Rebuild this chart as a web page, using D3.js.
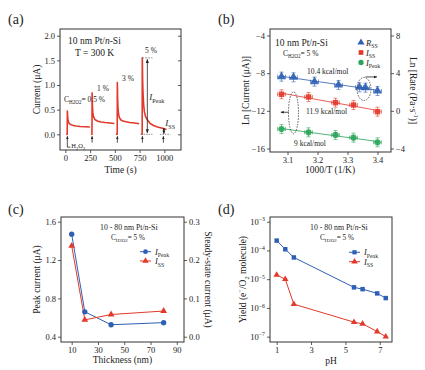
<!DOCTYPE html>
<html><head><meta charset="utf-8">
<script src="https://cdn.jsdelivr.net/npm/d3@7"></script>
<style>body{margin:0;background:#fff}svg{display:block}text{font-family:"Liberation Serif","Times New Roman",serif;fill:#222}</style>
</head><body>
<svg id="c" width="425" height="370"></svg>
<script>
// ---------- DATA ----------
// (a) current transients
const aTicksX = [0, 250, 500, 750, 1000];
const aTicksY = [0, 0.5, 1.0, 1.5, 2.0];
const aSeg1T = [8, 19, 20, 23, 27, 33, 45, 60, 80, 110, 150, 200, 248];
const aSeg1I = [0, 0, 0.47, 0.36, 0.28, 0.24, 0.21, 0.195, 0.18, 0.17, 0.16, 0.155, 0.15];
const aSeg2T = [258, 269, 270, 273, 277, 283, 295, 310, 330, 360, 400, 450, 495];
const aSeg2I = [0, 0, 0.84, 0.6, 0.45, 0.37, 0.31, 0.285, 0.265, 0.25, 0.24, 0.23, 0.22];
const aSeg3T = [510, 524, 525, 528, 532, 538, 548, 562, 582, 612, 650, 700, 746];
const aSeg3I = [0, 0, 1.05, 0.72, 0.52, 0.4, 0.33, 0.29, 0.27, 0.255, 0.24, 0.228, 0.215];
const aSeg4T = [762, 776, 777, 780, 784, 790, 798, 810, 830, 856, 890, 923, 960, 990, 1022];
const aSeg4I = [0, 0, 1.55, 1.15, 0.85, 0.62, 0.46, 0.36, 0.29, 0.22, 0.18, 0.155, 0.135, 0.12, 0.1];
const aInject = [20, 270, 525, 778, 990];
const aLabels = ["0.5 %", "1 %", "3 %", "5 %"];

// (b) Arrhenius plot
const bTicksX = [3.1, 3.2, 3.3, 3.4];
const bTicksL = [-4, -8, -12, -16];
const bTicksR = [8, 4, 0, -4];
const bXR = [3.08, 3.12, 3.19, 3.27, 3.34, 3.36, 3.40];
const bRss = [3.63, 3.56, 3.10, 2.75, 2.50, 2.46, 2.11];
const bXI = [3.08, 3.17, 3.26, 3.32, 3.40];
const bIss = [-10.24, -10.53, -11.13, -11.38, -12.09];
const bIpeak = [-13.93, -14.28, -14.56, -14.85, -15.34];
const bEa = ["10.4 kcal/mol", "11.9 kcal/mol", "9 kcal/mol"];

// (c) thickness dependence
const cTicksX = [10, 30, 50, 70, 90];
const cTicksL = [0.4, 0.8, 1.2, 1.6];
const cTicksR = [0.0, 0.1, 0.2, 0.3];
const cThick = [10, 20, 40, 80];
const cIpeak = [1.47, 0.66, 0.525, 0.547];
const cIss = [0.237, 0.044, 0.058, 0.067];

// (d) pH dependence
const dTicksX = [1, 3, 5, 7];
const dTicksExp = [-3, -4, -5, -6, -7];
const dPH = [1, 1.5, 2, 5.5, 6, 6.85, 7.35];
const dPeak = [2.2e-4, 1.1e-4, 5.7e-5, 5.2e-6, 4.5e-6, 3.2e-6, 2.2e-6];
const dSS = [1.4e-5, 1.0e-5, 1.35e-6, 3.2e-7, 2.8e-7, 1.5e-7, 1.0e-7];

// ---------- HELPERS ----------
const svg = d3.select('#c');
const SERIF = '"Liberation Serif","Times New Roman",serif';
const AX = '#333', RED = '#e2392b', BLUE = '#2f5fb4', GREEN = '#2aa45a';
const defs = svg.append('defs');
function mk(id, col, w) {
  defs.append('marker').attr('id', id).attr('viewBox', '0 0 10 10').attr('refX', 9).attr('refY', 5)
    .attr('markerWidth', w).attr('markerHeight', w).attr('orient', 'auto-start-reverse')
    .append('path').attr('d', 'M0,1L10,5L0,9Z').attr('fill', col);
}
mk('arrK', '#222', 5); mk('arrS', '#222', 4);

function rich(g, x, y, parts, size, opts = {}) {
  const t = g.append('text').attr('x', x).attr('y', y).attr('font-size', size)
    .attr('text-anchor', opts.anchor || 'start');
  if (opts.rotate) t.attr('transform', `rotate(${opts.rotate},${x},${y})`);
  let shift = 0;
  parts.forEach(p => {
    const s = t.append('tspan').text(p.t);
    if (p.i) s.attr('font-style', 'italic');
    const target = p.sub ? size * 0.3 : p.sup ? -size * 0.4 : 0;
    if (target !== shift) { s.attr('dy', target - shift); shift = target; }
    if (p.sub || p.sup) s.attr('font-size', size * 0.68);
  });
  return t;
}
function axis(ax, tr) {
  const a = svg.append('g').attr('transform', tr).call(ax);
  a.select('.domain').remove();
  a.attr('font-family', SERIF).attr('font-size', 8.5);
  a.selectAll('line').attr('stroke', AX).attr('stroke-width', 0.8);
  a.selectAll('text').attr('fill', '#222');
  return a;
}
function frame(x0, y0, x1, y1) {
  svg.append('rect').attr('x', x0).attr('y', y0).attr('width', x1 - x0).attr('height', y1 - y0)
    .attr('fill', 'none').attr('stroke', AX).attr('stroke-width', 1);
}
function label(x, y, s) { svg.append('text').attr('x', x).attr('y', y).attr('font-size', 14).text(s); }
const H2O2 = [{t: 'C'}, {t: 'H2O2', sub: true}];

// ---------- PANEL (a) ----------
{
  const x = d3.scaleLinear().domain([-54, 1168]).range([60, 181]);
  const y = d3.scaleLinear().domain([-0.318, 2.136]).range([150, 29]);
  label(8, 24, '(a)');
  axis(d3.axisBottom(x).tickValues(aTicksX).tickFormat(d3.format('d')).tickSize(3).tickPadding(2).tickSizeOuter(0), 'translate(0,150)');
  axis(d3.axisLeft(y).tickValues(aTicksY).tickFormat(d3.format('.1f')).tickSize(3).tickPadding(2).tickSizeOuter(0), 'translate(60,0)');
  axis(d3.axisLeft(y).tickValues(aTicksY).tickFormat('').tickSize(3).tickSizeOuter(0), 'translate(181,0)');
  frame(60, 29, 181, 150);
  const line = d3.line().x(d => x(d[0])).y(d => y(d[1]));
  [[aSeg1T, aSeg1I], [aSeg2T, aSeg2I], [aSeg3T, aSeg3I], [aSeg4T, aSeg4I]].forEach(([T, I]) => {
    svg.append('path').attr('d', line(T.map((t, i) => [t, I[i]]))).attr('fill', 'none')
      .attr('stroke', RED).attr('stroke-width', 1.6).attr('stroke-linejoin', 'round');
  });
  // injection arrows
  aInject.forEach(t => {
    svg.append('line').attr('x1', x(t)).attr('x2', x(t)).attr('y1', y(-0.17)).attr('y2', y(-0.04))
      .attr('stroke', '#222').attr('stroke-width', 0.8).attr('marker-end', 'url(#arrS)');
  });
  svg.append('path').attr('d', `M${x(aInject[0])},${y(-0.17)}V${y(-0.26)}H${x(aInject[0]) + 3}`)
    .attr('fill', 'none').attr('stroke', '#222').attr('stroke-width', 0.8);
  rich(svg, x(aInject[0]) + 4, y(-0.26) + 1, [{t: 'H'}, {t: '2', sub: true}, {t: 'O'}, {t: '2', sub: true}], 6.5);
  // peak annotation
  const tp = 828;
  svg.append('line').attr('x1', x(775)).attr('x2', x(880)).attr('y1', y(1.55)).attr('y2', y(1.55))
    .attr('stroke', '#777').attr('stroke-width', 0.8).attr('stroke-dasharray', '2,1');
  svg.append('line').attr('x1', x(765)).attr('x2', x(880)).attr('y1', y(0)).attr('y2', y(0))
    .attr('stroke', '#777').attr('stroke-width', 0.8).attr('stroke-dasharray', '1.5,1');
  svg.append('line').attr('x1', x(955)).attr('x2', x(1060)).attr('y1', y(0)).attr('y2', y(0))
    .attr('stroke', '#777').attr('stroke-width', 0.8).attr('stroke-dasharray', '1.5,1');
  svg.append('line').attr('x1', x(tp)).attr('x2', x(tp)).attr('y1', y(1.52)).attr('y2', y(0.03))
    .attr('stroke', '#222').attr('stroke-width', 0.8).attr('marker-start', 'url(#arrK)').attr('marker-end', 'url(#arrK)');
  svg.append('line').attr('x1', x(995)).attr('x2', x(995)).attr('y1', y(0.13)).attr('y2', y(0.01))
    .attr('stroke', '#222').attr('stroke-width', 0.8).attr('marker-start', 'url(#arrS)').attr('marker-end', 'url(#arrS)');
  rich(svg, x(tp) + 2, 100, [{t: 'I', i: true}, {t: 'Peak', sub: true}], 9);
  rich(svg, x(1010), 126, [{t: 'I', i: true}, {t: 'SS', sub: true}], 9);
  rich(svg, 64, 102, [...H2O2, {t: '= ' + aLabels[0]}], 7.5);
  svg.append('text').attr('x', 97).attr('y', 91).attr('font-size', 7.5).text(aLabels[1]);
  svg.append('text').attr('x', 122).attr('y', 81).attr('font-size', 7.5).text(aLabels[2]);
  svg.append('text').attr('x', 145).attr('y', 53).attr('font-size', 7.5).text(aLabels[3]);
  rich(svg, 68, 43.5, [{t: '10 nm Pt/'}, {t: 'n', i: true}, {t: '-Si'}], 9.5);
  svg.append('text').attr('x', 75).attr('y', 55.5).attr('font-size', 9.5).text('T = 300 K');
  svg.append('text').attr('x', 120.5).attr('y', 173).attr('font-size', 9.5).attr('text-anchor', 'middle').text('Time (s)');
  svg.append('text').attr('x', 40).attr('y', 89.5).attr('font-size', 9.5).attr('text-anchor', 'middle')
    .attr('transform', 'rotate(-90,40,89.5)').text('Current (μA)');
}

// ---------- PANEL (b) ----------
{
  const x = d3.scaleLinear().domain([3.0417, 3.445]).range([270, 391]);
  const yL = d3.scaleLinear().domain([-16.37, -3.31]).range([152, 29]);
  const yR = d3.scaleLinear().domain([-4.37, 8.69]).range([152, 29]);
  label(218, 24, '(b)');
  axis(d3.axisBottom(x).tickValues(bTicksX).tickFormat(d3.format('.1f')).tickSize(3).tickPadding(2).tickSizeOuter(0), 'translate(0,152)');
  axis(d3.axisLeft(yL).tickValues(bTicksL).tickSize(3).tickPadding(2).tickSizeOuter(0), 'translate(270,0)');
  axis(d3.axisRight(yR).tickValues(bTicksR).tickSize(3).tickPadding(2).tickSizeOuter(0), 'translate(391,0)');
  frame(270, 29, 391, 152);
  const series = [
    {X: bXR, Y: bRss, sc: yR, col: BLUE, sym: d3.symbolTriangle, sz: 34},
    {X: bXI, Y: bIss, sc: yL, col: RED, sym: d3.symbolSquare, sz: 30},
    {X: bXI, Y: bIpeak, sc: yL, col: GREEN, sym: d3.symbolCircle, sz: 30}
  ];
  series.forEach(s => {
    // least-squares fit line
    const n = s.X.length, mx = d3.mean(s.X), my = d3.mean(s.Y);
    const slope = d3.sum(s.X.map((v, i) => (v - mx) * (s.Y[i] - my))) / d3.sum(s.X.map(v => (v - mx) ** 2));
    const x0 = s.X[0], x1 = s.X[n - 1];
    svg.append('line').attr('x1', x(x0)).attr('x2', x(x1))
      .attr('y1', s.sc(my + slope * (x0 - mx))).attr('y2', s.sc(my + slope * (x1 - mx)))
      .attr('stroke', s.col).attr('stroke-width', 1).attr('opacity', 0.8);
    s.X.forEach((xv, i) => {
      const px = x(xv), py = s.sc(s.Y[i]);
      const g = svg.append('g').attr('stroke', s.col).attr('stroke-width', 0.8).attr('opacity', 0.75);
      g.append('line').attr('x1', px).attr('x2', px).attr('y1', py - 4.5).attr('y2', py + 4.5);
      g.append('line').attr('x1', px - 2).attr('x2', px + 2).attr('y1', py - 4.5).attr('y2', py - 4.5);
      g.append('line').attr('x1', px - 2).attr('x2', px + 2).attr('y1', py + 4.5).attr('y2', py + 4.5);
      g.append('line').attr('x1', px - 4).attr('x2', px + 4).attr('y1', py).attr('y2', py);
      g.append('line').attr('x1', px - 4).attr('x2', px - 4).attr('y1', py - 2).attr('y2', py + 2);
      g.append('line').attr('x1', px + 4).attr('x2', px + 4).attr('y1', py - 2).attr('y2', py + 2);
      svg.append('path').attr('d', d3.symbol(s.sym, s.sz)()).attr('transform', `translate(${px},${py})`)
        .attr('fill', s.col).attr('opacity', 0.9);
    });
  });
  // dashed ellipses and arrows
  svg.append('ellipse').attr('cx', x(3.355)).attr('cy', yL(-9.68)).attr('rx', 7).attr('ry', 11.5)
    .attr('fill', 'none').attr('stroke', '#333').attr('stroke-width', 0.8).attr('stroke-dasharray', '1.5,1.2');
  svg.append('line').attr('x1', x(3.36)).attr('x2', x(3.398)).attr('y1', yL(-8.4)).attr('y2', yL(-8.4))
    .attr('stroke', '#222').attr('stroke-width', 0.8).attr('marker-end', 'url(#arrS)');
  svg.append('ellipse').attr('cx', x(3.12)).attr('cy', yL(-12.2)).attr('rx', 5).attr('ry', 21)
    .attr('fill', 'none').attr('stroke', '#333').attr('stroke-width', 0.8).attr('stroke-dasharray', '1.5,1.2');
  svg.append('line').attr('x1', x(3.104)).attr('x2', x(3.078)).attr('y1', yL(-12.15)).attr('y2', yL(-12.15))
    .attr('stroke', '#222').attr('stroke-width', 0.8).attr('marker-end', 'url(#arrS)');
  svg.append('text').attr('x', 307).attr('y', 73.5).attr('font-size', 7.5).text(bEa[0]);
  svg.append('text').attr('x', 306).attr('y', 114).attr('font-size', 7.5).text(bEa[1]);
  svg.append('text').attr('x', 294).attr('y', 146).attr('font-size', 7.5).text(bEa[2]);
  rich(svg, 275, 46, [{t: '10 nm Pt/'}, {t: 'n', i: true}, {t: '-Si'}], 9.5);
  rich(svg, 283, 55.5, [...H2O2, {t: '= 5 %'}], 7.5);
  // legend
  const leg = [[d3.symbolTriangle, BLUE, [{t: 'R', i: true}, {t: 'SS', sub: true}]],
               [d3.symbolSquare, RED, [{t: 'I', i: true}, {t: 'SS', sub: true}]],
               [d3.symbolCircle, GREEN, [{t: 'I', i: true}, {t: 'Peak', sub: true}]]];
  leg.forEach((l, i) => {
    const yy = 42.5 + i * 10;
    svg.append('path').attr('d', d3.symbol(l[0], 22)()).attr('transform', `translate(361,${yy})`).attr('fill', l[1]);
    rich(svg, 366, yy + 3, l[2], 8.5);
  });
  svg.append('text').attr('x', 330).attr('y', 173).attr('font-size', 9.5).attr('text-anchor', 'middle').text('1000/T (1/K)');
  rich(svg, 249, 90.5, [{t: 'Ln [Current (μA)]'}], 9.5, {anchor: 'middle', rotate: -90});
  rich(svg, 410, 90.5, [{t: 'Ln [Rate (Pa·s'}, {t: '-1', sup: true}, {t: ')]'}], 9.5, {anchor: 'middle', rotate: 90});
}

// ---------- PANEL (c) ----------
{
  const x = d3.scaleLinear().domain([1.87, 95.5]).range([61, 184]);
  const yL = d3.scaleLinear().domain([0.345, 1.649]).range([342, 217]);
  const yR = d3.scaleLinear().domain([-0.01375, 0.31225]).range([342, 217]);
  label(8, 214, '(c)');
  axis(d3.axisBottom(x).tickValues(cTicksX).tickSize(3).tickPadding(2).tickSizeOuter(0), 'translate(0,342)');
  axis(d3.axisLeft(yL).tickValues(cTicksL).tickFormat(d3.format('.1f')).tickSize(3).tickPadding(2).tickSizeOuter(0), 'translate(61,0)');
  axis(d3.axisRight(yR).tickValues(cTicksR).tickFormat(d3.format('.1f')).tickSize(3).tickPadding(2).tickSizeOuter(0), 'translate(184,0)');
  frame(61, 217, 184, 342);
  const lp = d3.line().x((d, i) => x(cThick[i])).y(d => yL(d));
  const lr = d3.line().x((d, i) => x(cThick[i])).y(d => yR(d));
  svg.append('path').attr('d', lp(cIpeak)).attr('fill', 'none').attr('stroke', BLUE).attr('stroke-width', 1);
  svg.append('path').attr('d', lr(cIss)).attr('fill', 'none').attr('stroke', RED).attr('stroke-width', 1);
  cIpeak.forEach((v, i) => svg.append('path').attr('d', d3.symbol(d3.symbolCircle, 22)())
    .attr('transform', `translate(${x(cThick[i])},${yL(v)})`).attr('fill', BLUE));
  cIss.forEach((v, i) => svg.append('path').attr('d', d3.symbol(d3.symbolTriangle, 20)())
    .attr('transform', `translate(${x(cThick[i])},${yR(v)})`).attr('fill', RED));
  rich(svg, 100, 230, [{t: '10 - 80 nm Pt/n-Si'}], 7.8);
  rich(svg, 111, 239.5, [...H2O2, {t: '= 5 %'}], 7.2);
  [[BLUE, d3.symbolCircle, [{t: 'I', i: true}, {t: 'Peak', sub: true}], 251.7],
   [RED, d3.symbolTriangle, [{t: 'I', i: true}, {t: 'SS', sub: true}], 261]].forEach(l => {
    svg.append('line').attr('x1', 140).attr('x2', 151).attr('y1', l[3]).attr('y2', l[3]).attr('stroke', l[0]);
    svg.append('path').attr('d', d3.symbol(l[1], 18)()).attr('transform', `translate(145.5,${l[3]})`).attr('fill', l[0]);
    rich(svg, 155, l[3] + 3, l[2], 8.5);
  });
  svg.append('text').attr('x', 122.5).attr('y', 363).attr('font-size', 9.5).attr('text-anchor', 'middle').text('Thickness (nm)');
  rich(svg, 40, 279.5, [{t: 'Peak current (μA)'}], 9.5, {anchor: 'middle', rotate: -90});
  rich(svg, 205, 279.5, [{t: 'Steady-state current (μA)'}], 9.5, {anchor: 'middle', rotate: 90});
}

// ---------- PANEL (d) ----------
{
  const x = d3.scaleLinear().domain([0.611, 7.713]).range([270, 392]);
  const y = d3.scaleLog().domain([Math.pow(10, -7.186), Math.pow(10, -2.836)]).range([342, 217]);
  label(218, 214, '(d)');
  axis(d3.axisBottom(x).tickValues(dTicksX).tickSize(3).tickPadding(2).tickSizeOuter(0), 'translate(0,342)');
  axis(d3.axisLeft(y).tickValues(dTicksExp.map(e => Math.pow(10, e))).tickFormat('').tickSize(3).tickSizeOuter(0), 'translate(270,0)');
  dTicksExp.forEach(e => {
    rich(svg, 265, y(Math.pow(10, e)) + 3, [{t: '10'}, {t: '−' + Math.abs(e), sup: true}], 8.5, {anchor: 'end'});
  });
  frame(270, 217, 392, 342);
  const line = d3.line().x((d, i) => x(dPH[i])).y(d => y(d));
  svg.append('path').attr('d', line(dPeak)).attr('fill', 'none').attr('stroke', BLUE).attr('stroke-width', 1);
  svg.append('path').attr('d', line(dSS)).attr('fill', 'none').attr('stroke', RED).attr('stroke-width', 1);
  dPeak.forEach((v, i) => svg.append('path').attr('d', d3.symbol(d3.symbolSquare, 20)())
    .attr('transform', `translate(${x(dPH[i])},${y(v)})`).attr('fill', BLUE));
  dSS.forEach((v, i) => svg.append('path').attr('d', d3.symbol(d3.symbolTriangle, 18)())
    .attr('transform', `translate(${x(dPH[i])},${y(v)})`).attr('fill', RED));
  rich(svg, 310, 230, [{t: '10 - 80 nm Pt/'}, {t: 'n', i: true}, {t: '-Si'}], 7.8);
  rich(svg, 320, 239.5, [...H2O2, {t: '= 5 %'}], 7.2);
  [[BLUE, d3.symbolSquare, [{t: 'I', i: true}, {t: 'Peak', sub: true}], 252.3],
   [RED, d3.symbolTriangle, [{t: 'I', i: true}, {t: 'SS', sub: true}], 261.7]].forEach(l => {
    svg.append('line').attr('x1', 349).attr('x2', 360).attr('y1', l[3]).attr('y2', l[3]).attr('stroke', l[0]);
    svg.append('path').attr('d', d3.symbol(l[1], 18)()).attr('transform', `translate(354.5,${l[3]})`).attr('fill', l[0]);
    rich(svg, 364, l[3] + 3, l[2], 8.5);
  });
  svg.append('text').attr('x', 331).attr('y', 364).attr('font-size', 9.5).attr('text-anchor', 'middle').text('pH');
  rich(svg, 246, 279.5, [{t: 'Yield (e'}, {t: '−', sup: true}, {t: '/O'}, {t: '2', sub: true}, {t: ' molecule)'}], 9.5, {anchor: 'middle', rotate: -90});
}
</script>
</body></html>
